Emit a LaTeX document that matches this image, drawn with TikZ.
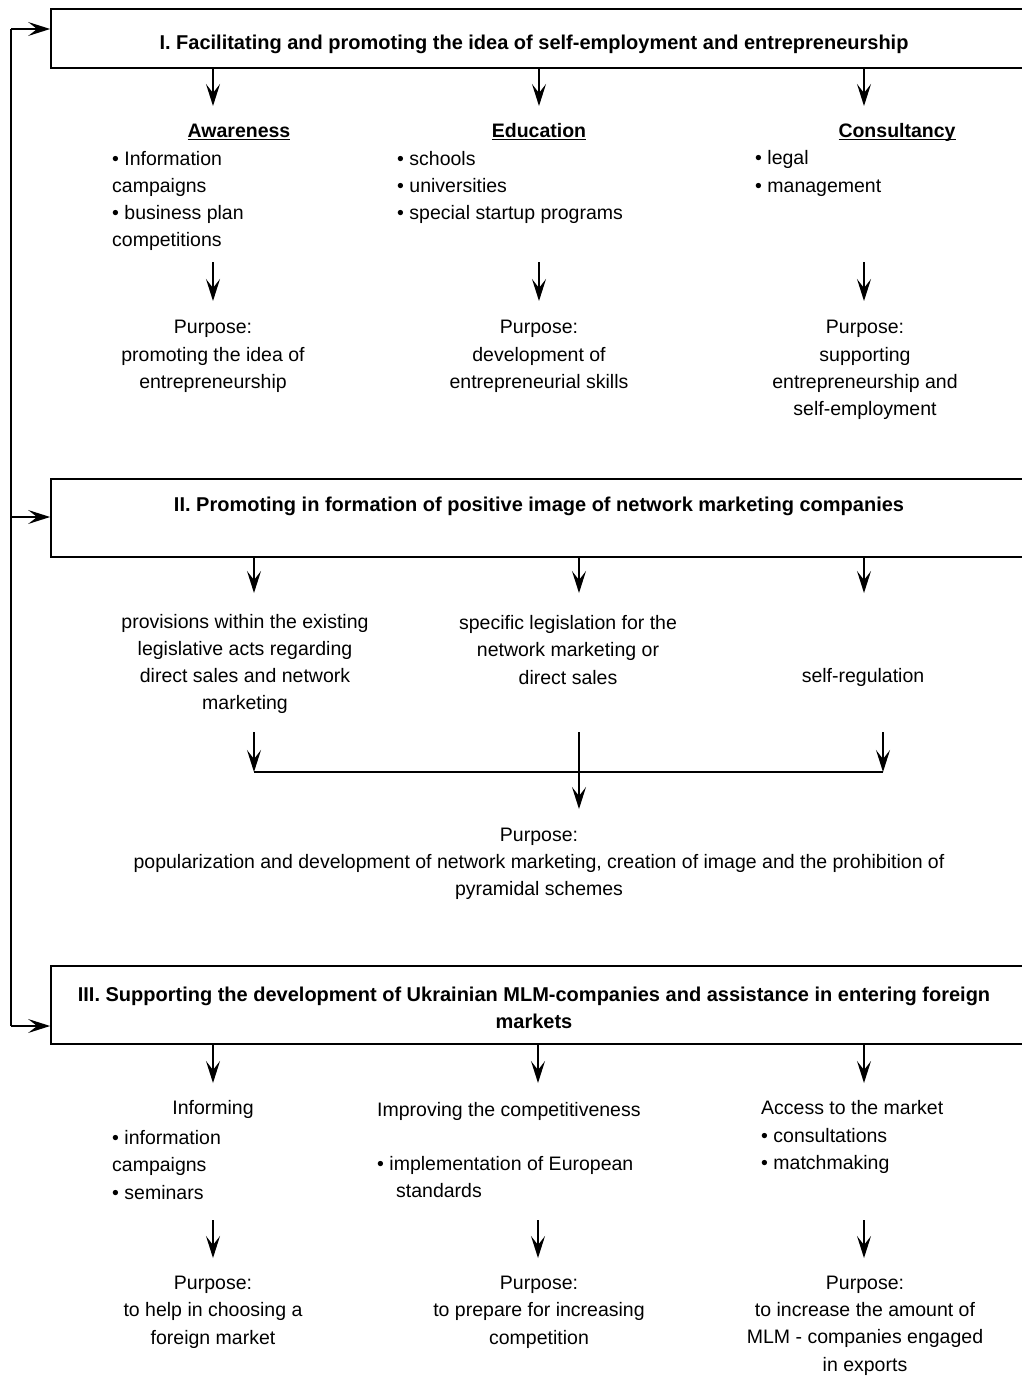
\documentclass[tikz,border=0pt]{standalone}
\usepackage{fontspec}
\setmainfont{Liberation Sans}
\usetikzlibrary{arrows.meta}
\tikzset{
  txt/.style={inner sep=0pt, font=\fontsize{19.5}{27.3}\selectfont, align=center},
  ltxt/.style={inner sep=0pt, font=\fontsize{19.5}{27.3}\selectfont, align=left, anchor=west},
  ttl/.style={inner sep=0pt, font=\fontsize{20}{27.3}\selectfont\bfseries, align=center},
  hd/.style={inner sep=0pt, font=\fontsize{19.5}{27.3}\selectfont\bfseries, anchor=base},
  bigbox/.style={draw, line width=1.8pt, minimum width=977pt, inner sep=0pt},
  arr/.style={line width=1.3pt, -{Stealth[length=22pt,width=14pt,inset=9pt]}},
  plain/.style={line width=1.3pt},
}
\newcommand{\hdline}[1]{\underline{\smash{#1}}}
\begin{document}
\begin{tikzpicture}[x=1pt,y=-1pt]
\useasboundingbox (0,0) rectangle (1022,1378);
\clip (0,0) rectangle (1022,1378);
% boxes
\node[bigbox, minimum height=59pt] (b1) at (539.5,38.5) {};
\node[bigbox, minimum height=78pt] (b2) at (539.5,518) {};
\node[bigbox, minimum height=78pt] (b3) at (539.5,1005) {};
\node[ttl] (t1) at (534,44) {I. Facilitating and promoting the idea of self-employment and entrepreneurship};
\node[ttl] (t2) at (539,506) {II. Promoting in formation of positive image of network marketing companies};
\node[ttl] (t3) at (534,1007.5) {III. Supporting the development of Ukrainian MLM-companies and assistance in entering foreign\\markets};
% feedback loop
\coordinate (L1) at (11,29);
\coordinate (L2) at (11,517);
\coordinate (L3) at (11,1026);
\draw[plain] (L1) -- (L3);
\draw[arr] (L1) -- (L1 -| b1.west);
\draw[arr] (L2) -- (L2 -| b2.west);
\draw[arr] (L3) -- (L3 -| b3.west);
% section I
\node[hd] (h1) at (239,138) {\hdline{Awareness}};
\node[ltxt] (l1) at (112,201) {• Information\\campaigns\\• business plan\\competitions};
\node[hd] (h2) at (539,138) {\hdline{Education}};
\node[ltxt] (l2) at (397,187.5) {• schools\\• universities\\• special startup programs};
\node[hd] (h3) at (897,138) {\hdline{Consultancy}};
\node[ltxt] (l3) at (755,173.5) {• legal\\• management};
\node[txt] (p1) at (213,356.5) {Purpose:\\promoting the idea of\\entrepreneurship};
\node[txt] (p2) at (539,356.5) {Purpose:\\development of\\entrepreneurial skills};
\node[txt] (p3) at (865,370) {Purpose:\\supporting\\entrepreneurship and\\self-employment};
\coordinate (A1) at (213,106);
\coordinate (A2) at (539,106);
\coordinate (A3) at (864,106);
\draw[arr] (b1.south -| A1) -- (A1);
\draw[arr] (b1.south -| A2) -- (A2);
\draw[arr] (b1.south -| A3) -- (A3);
\coordinate (B1s) at (213,262); \coordinate (B1) at (213,301);
\coordinate (B2s) at (539,262); \coordinate (B2) at (539,301);
\coordinate (B3s) at (864,262); \coordinate (B3) at (864,301);
\draw[arr] (B1s) -- (B1);
\draw[arr] (B2s) -- (B2);
\draw[arr] (B3s) -- (B3);
% section II
\node[txt] (q1) at (245,664) {provisions within the existing\\legislative acts regarding\\direct sales and network\\marketing};
\node[txt] (q2) at (568,650) {specific legislation for the\\network marketing or\\direct sales};
\node[txt] (q3) at (863,677) {self-regulation};
\coordinate (C1) at (254,593);
\coordinate (C2) at (579,593);
\coordinate (C3) at (864,593);
\draw[arr] (b2.south -| C1) -- (C1);
\draw[arr] (b2.south -| C2) -- (C2);
\draw[arr] (b2.south -| C3) -- (C3);
\coordinate (D1s) at (254,732); \coordinate (D1) at (254,772);
\coordinate (D2s) at (579,732); \coordinate (D2) at (579,809);
\coordinate (D3s) at (883,732); \coordinate (D3) at (883,772);
\draw[arr] (D1s) -- (D1);
\draw[arr] (D3s) -- (D3);
\draw[plain] (D1) -- (D3);
\draw[arr] (D2s) -- (D2);
\node[txt] (pp) at (539,864) {Purpose:\\popularization and development of network marketing, creation of image and the prohibition of\\pyramidal schemes};
% section III
\coordinate (E1) at (213,1083);
\coordinate (E2) at (538,1083);
\coordinate (E3) at (864,1083);
\draw[arr] (b3.south -| E1) -- (E1);
\draw[arr] (b3.south -| E2) -- (E2);
\draw[arr] (b3.south -| E3) -- (E3);
\node[txt] (r1h) at (213,1109) {Informing};
\node[ltxt] (r1) at (112,1165) {• information\\campaigns\\• seminars};
\node[ltxt] (r2) at (377,1150) {Improving the competitiveness\\\mbox{}\\• implementation of European\\\hspace*{19pt}standards};
\node[ltxt] (r3) at (761,1137) {Access to the market\\• consultations\\• matchmaking};
\coordinate (F1s) at (213,1220); \coordinate (F1) at (213,1258);
\coordinate (F2s) at (538,1220); \coordinate (F2) at (538,1258);
\coordinate (F3s) at (864,1220); \coordinate (F3) at (864,1258);
\draw[arr] (F1s) -- (F1);
\draw[arr] (F2s) -- (F2);
\draw[arr] (F3s) -- (F3);
\node[txt] (s1) at (213,1312) {Purpose:\\to help in choosing a\\foreign market};
\node[txt] (s2) at (539,1312) {Purpose:\\to prepare for increasing\\competition};
\node[txt] (s3) at (865,1325.5) {Purpose:\\to increase the amount of\\MLM - companies engaged\\in exports};
\end{tikzpicture}
\end{document}
